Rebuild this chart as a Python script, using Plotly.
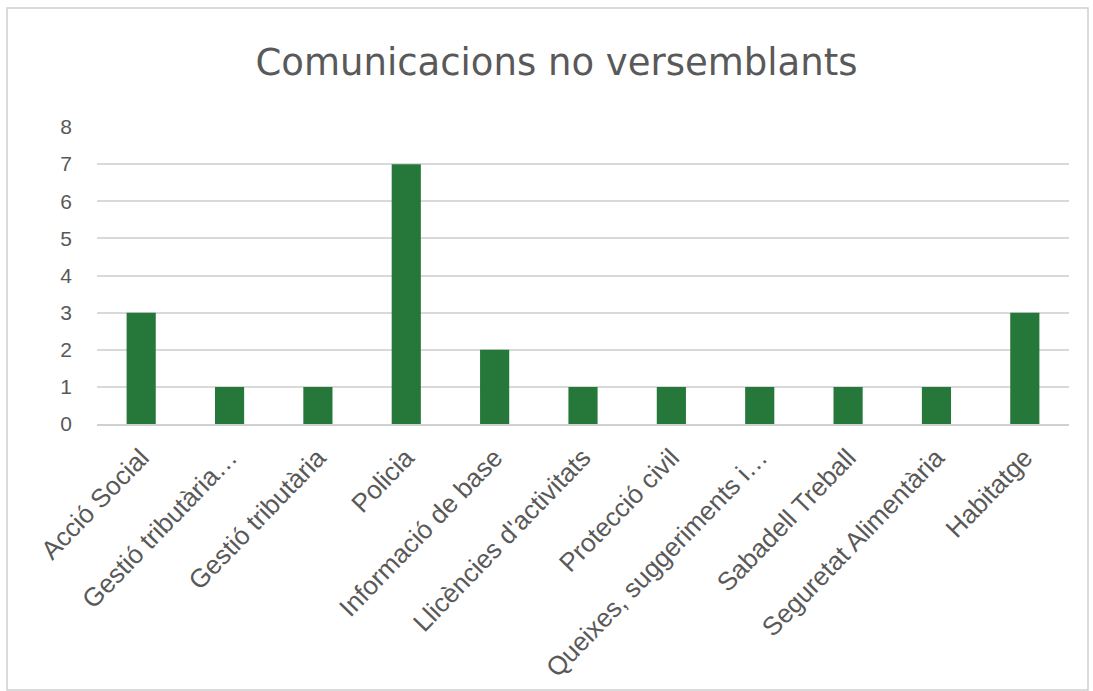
import plotly.graph_objects as go

categories = [
    "Acció Social",
    "Gestió tributària…",
    "Gestió tributària",
    "Policia",
    "Informació de base",
    "Llicències d'activitats",
    "Protecció civil",
    "Queixes, suggeriments i…",
    "Sabadell Treball",
    "Seguretat Alimentària",
    "Habitatge",
]
values = [3, 1, 1, 7, 2, 1, 1, 1, 1, 1, 3]
y_ticks = [0, 1, 2, 3, 4, 5, 6, 7, 8]
title_text = "Comunicacions no versemblants"

W, H = 1093, 691
L, R, T, B = 97, 24, 127, 267

fig = go.Figure(
    go.Bar(x=categories, y=values, marker=dict(color="#26773a", line=dict(width=0)))
)

pw = W - L - R
ph = H - T - B

fig.update_layout(
    width=W,
    height=H,
    margin=dict(l=L, r=R, t=T, b=B, autoexpand=False),
    paper_bgcolor="white",
    plot_bgcolor="white",
    bargap=0.67,
    showlegend=False,
    title=dict(
        text=title_text,
        x=556.5 / W,
        xanchor="center",
        y=1 - 62 / H,
        yanchor="middle",
        font=dict(family="DejaVu Sans, Liberation Sans, Arial", size=37, color="#595959"),
    ),
    font=dict(family="Liberation Sans, Arial", color="#595959"),
    xaxis=dict(
        tickangle=-46,
        tickfont=dict(size=26, color="#595959"),
        showgrid=False,
        showline=True,
        linecolor="#d0d0d0",
        linewidth=2,
        ticks="",
        ticklabelstandoff=6,
        automargin=False,
    ),
    yaxis=dict(
        range=[0, 8],
        tickvals=y_ticks,
        tickfont=dict(size=21, color="#595959"),
        showgrid=True,
        gridcolor="#d9d9d9",
        gridwidth=1.5,
        zeroline=False,
        showline=False,
        ticks="",
        ticklabelstandoff=24,
        automargin=False,
    ),
    shapes=[
        dict(
            type="rect",
            xref="paper",
            yref="paper",
            x0=(7 - L) / pw,
            x1=(1088 - L) / pw,
            y0=(H - B - 690) / ph,
            y1=(H - B - 8) / ph,
            line=dict(color="#d0d0d0", width=1.5),
            fillcolor="rgba(0,0,0,0)",
            layer="below",
        )
    ],
)

fig.write_html(
    "out.html",
    config={"displayModeBar": False},
    post_script="document.body.style.margin='0';document.body.style.overflow='hidden';",
)
